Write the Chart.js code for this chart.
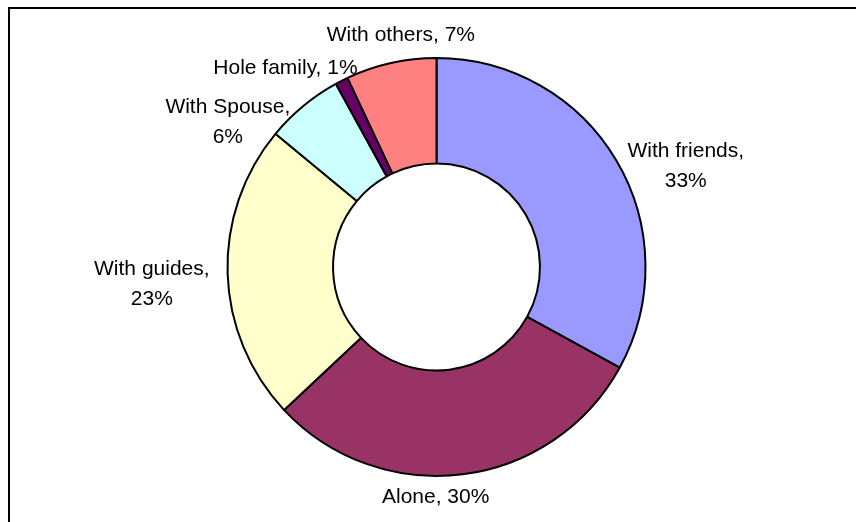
<!DOCTYPE html>
<html>
<head>
<meta charset="utf-8">
<script src="https://cdn.jsdelivr.net/npm/chart.js@4/dist/chart.umd.min.js"></script>
<style>
  html, body { margin: 0; padding: 0; background: #ffffff; overflow: hidden; }
  #wrap { width: 856px; height: 522px; position: relative; }
</style>
</head>
<body>
<div id="wrap"><canvas id="c" width="856" height="522"></canvas></div>
<script>
// Travel companions, share of respondents (%)
const categories = ['With friends', 'Alone', 'With guides', 'With Spouse', 'Hole family', 'With others'];
const shares = [33, 30, 23, 6, 1, 7];
const sliceColors = ['#9999FF', '#993366', '#FFFFCC', '#CCFFFF', '#660066', '#FF8080'];

// Black frame around the plot area (left and top edges fall inside the canvas)
const frame = {
  id: 'frame',
  beforeDraw(chart) {
    const ctx = chart.ctx;
    ctx.save();
    ctx.fillStyle = '#000000';
    ctx.fillRect(8, 7, 2, chart.height - 7);
    ctx.fillRect(8, 7, chart.width - 8, 2);
    ctx.restore();
  }
};

// "Name, value%" labels placed just outside each slice
const sliceLabels = {
  id: 'sliceLabels',
  afterDatasetsDraw(chart, args, opts) {
    const ctx = chart.ctx;
    const meta = chart.getDatasetMeta(0);
    const values = chart.data.datasets[0].data;
    ctx.save();
    ctx.font = opts.font;
    ctx.fillStyle = opts.color;
    ctx.textBaseline = 'middle';
    ctx.textAlign = 'center';
    meta.data.forEach((arc, i) => {
      const p = arc.getProps(['x', 'y', 'startAngle', 'endAngle', 'outerRadius'], true);
      const mid = (p.startAngle + p.endAngle) / 2;
      const dirX = Math.cos(mid), dirY = Math.sin(mid);
      const ax = p.x + dirX * p.outerRadius;
      const ay = p.y + dirY * p.outerRadius;
      const name = chart.data.labels[i];
      const lines = opts.wrap[i] ? [name + ',', values[i] + '%'] : [name + ', ' + values[i] + '%'];
      const bw = Math.max(...lines.map(l => ctx.measureText(l).width));
      const bh = lines.length * opts.lineHeight;
      let cx, cy;
      if (dirX > 0.3) { cx = ax + opts.gap + bw / 2; cy = ay; }
      else if (dirX < -0.3) { cx = ax - opts.gap - bw / 2; cy = ay; }
      else { cx = ax; cy = ay + (dirY > 0 ? 1 : -1) * (opts.gap + bh / 2); }
      cx += opts.nudge[i][0];
      cy += opts.nudge[i][1];
      lines.forEach((l, k) => ctx.fillText(l, cx, cy - bh / 2 + opts.lineHeight * (k + 0.5)));
    });
    ctx.restore();
  }
};

new Chart(document.getElementById('c'), {
  type: 'doughnut',
  data: {
    labels: categories,
    datasets: [{
      data: shares,
      backgroundColor: sliceColors,
      borderColor: '#000000',
      borderWidth: 2,
      hoverOffset: 0
    }]
  },
  options: {
    responsive: false,
    animation: false,
    radius: 209,
    cutout: '49.5%',
    layout: { padding: { left: 17, top: 12, right: 0, bottom: 0 } },
    plugins: {
      legend: { display: false },
      tooltip: { enabled: false },
      sliceLabels: {
        font: '21px "Liberation Sans", Arial, sans-serif',
        color: '#000000',
        lineHeight: 30,
        gap: 12,
        wrap: [true, false, true, true, false, false],
        nudge: [[-1, 6], [-27, -4], [-6, 11], [-1, 16], [28, -13], [10, -1]]
      }
    }
  },
  plugins: [frame, sliceLabels]
});
</script>
</body>
</html>
